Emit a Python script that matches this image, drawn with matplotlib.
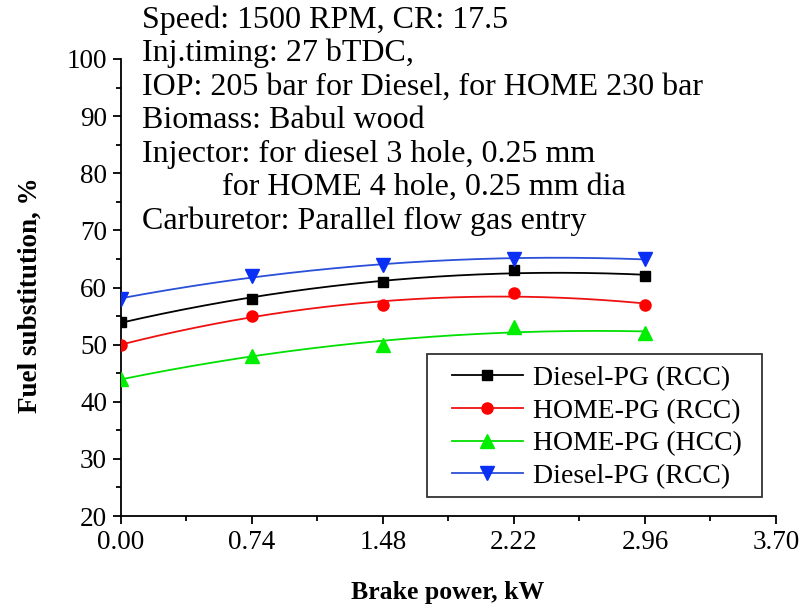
import matplotlib
matplotlib.use('Agg')
import matplotlib.pyplot as plt
import matplotlib.patches as mpatches
import numpy as np
from matplotlib.ticker import MultipleLocator, FormatStrFormatter

plt.rcParams['font.family'] = ['Liberation Serif', 'DejaVu Serif']

# data
brake_power = [0.00, 0.74, 1.48, 2.22, 2.96]
diesel_rcc = [54, 58, 61, 63, 62]
home_rcc = [50, 55, 57, 59, 57]
home_hcc = [44, 48, 50, 53, 52]
diesel_rcc2 = [58, 62, 64, 65, 65]

series = [
    ('Diesel-PG (RCC)', diesel_rcc, 'black', 'black', 's', 6.5),
    ('HOME-PG (RCC)', home_rcc, '#ee1111', '#ff0000', 'o', 8),
    ('HOME-PG (HCC)', home_hcc, '#00e000', '#00ee00', '^', 9.5),
    ('Diesel-PG (RCC)', diesel_rcc2, '#2a4fd8', '#0a30f5', 'v', 9.5),
]

notes = [
    'Speed: 1500 RPM, CR: 17.5',
    'Inj.timing: 27 bTDC,',
    'IOP: 205 bar for Diesel, for HOME 230 bar',
    'Biomass: Babul wood',
    'Injector: for diesel 3 hole, 0.25 mm',
    '          for HOME 4 hole, 0.25 mm dia',
    'Carburetor: Parallel flow gas entry',
]

W, H = 803, 610
fig = plt.figure(figsize=(W / 100, H / 100), dpi=100)
ax = fig.add_axes([121 / W, 1 - 516 / H, (776 - 121) / W, (516 - 59) / H])

x = np.array(brake_power)
xs = np.linspace(x[0], x[-1], 200)
for label, vals, lcol, mcol, mk, ms in series:
    # smooth curve = 2nd order fit through the points (Origin style)
    coef = np.polyfit(x, vals, 2)
    ax.plot(xs, np.polyval(coef, xs), color=lcol, lw=1.3, zorder=2)
    ax.plot(x, vals, ls='none', marker=mk, color=mcol, ms=ms, zorder=3)
    ax.plot([], [], color=lcol, lw=1.3, marker=mk, mfc=mcol, mec=mcol, ms=ms, label=label)

ax.set_xlim(0, 3.70)
ax.set_ylim(20, 100)
ax.xaxis.set_major_locator(MultipleLocator(0.74))
ax.xaxis.set_minor_locator(MultipleLocator(0.37))
ax.xaxis.set_major_formatter(FormatStrFormatter('%.2f'))
ax.yaxis.set_major_locator(MultipleLocator(10))
ax.yaxis.set_minor_locator(MultipleLocator(5))

for s in ['top', 'right']:
    ax.spines[s].set_visible(False)
for s in ['left', 'bottom']:
    ax.spines[s].set_linewidth(1.3)
ax.tick_params(which='major', direction='out', length=6, width=1.3, labelsize=19.5, pad=4)
ax.tick_params(which='minor', direction='out', length=3.5, width=1.3)

fig.text(30 / W, 1 - 295 / H, 'Fuel substitution, %', rotation=90, ha='center', va='center',
         fontsize=19.5, fontweight='bold')
fig.text(448 / W, 1 - 593 / H, 'Brake power, kW', ha='center', va='center',
         fontsize=18.5, fontweight='bold')

for i, line in enumerate(notes):
    fig.text(142 / W, 1 - (20 + 33.5 * i) / H, line, ha='left', va='center', fontsize=23)

# legend contents without frame, frame drawn separately (Origin has wider side padding)
leg = ax.legend(loc='lower left', bbox_to_anchor=(452 / W, 1 - 489 / H),
                bbox_transform=fig.transFigure, borderaxespad=0, borderpad=0, fontsize=20,
                frameon=False, numpoints=1,
                handlelength=2.55, handletextpad=0.35, labelspacing=0.26)
frame = mpatches.Rectangle((427 / W, 1 - 497 / H), 335 / W, 143 / H, transform=fig.transFigure,
                           fill=False, lw=1.3, ec='#333333')
fig.patches.append(frame)

fig.savefig('out.png', dpi=100)
